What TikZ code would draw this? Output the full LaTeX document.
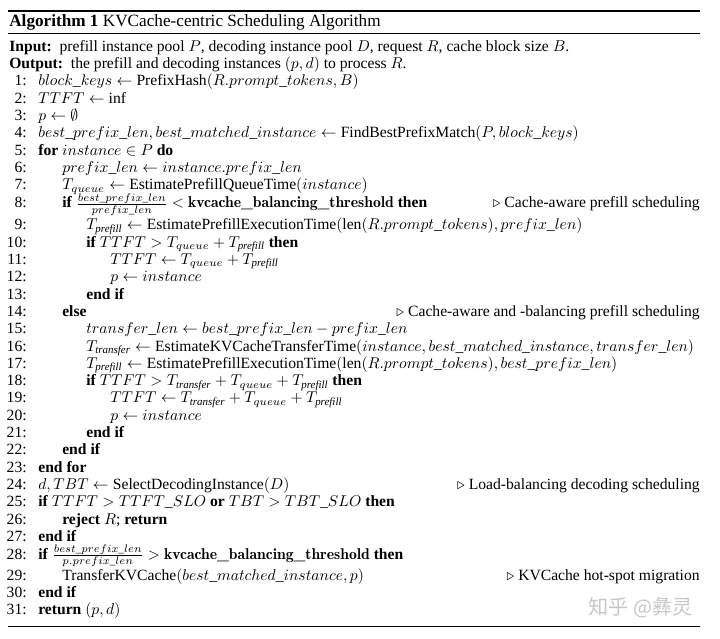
\documentclass[tikz,border=0pt]{standalone}
\usepackage{amsmath}
\usepackage{fontspec}
\setmainfont{Liberation Serif}
\newfontfamily\cjkwm{Noto Sans CJK SC}
\tikzset{
  num/.style={anchor=base east, inner sep=0pt},
  code/.style={anchor=base west, inner sep=0pt},
  cmt/.style={anchor=base east, inner sep=0pt},
  hdr/.style={anchor=base west, inner sep=0pt},
}
\newcommand\St[1]{\textit{#1}}
\newcommand\KT{{\fontfamily{lmr}\selectfont\bfseries kvcache\_balancing\_threshold}}
\newcommand\ALine[4]{%
  \node[num] (n#1) at (27,#3) {#1:};
  \node[code] (c#1) at ({38+24*(#2-1)},#3) {#4};}
\newcommand\AComment[3]{\node[cmt] (m#1) at (700,#2) {$\triangleright$ #3};}
\begin{document}
\begin{tikzpicture}[x=0.64pt,y=-0.64pt,font=\fontsize{10}{12}\selectfont]
\useasboundingbox (0,0) rectangle (720,639);
\fill[white] (0,0) rectangle (720,639);
% rules
\draw[line width=0.74pt] (8,11) -- (700,11);
\draw[line width=0.42pt] (8,33) -- (700,33);
\draw[line width=0.55pt] (8,626) -- (700,626);
% header
\node[hdr, font=\fontsize{11}{13}\selectfont] (title) at (9,27) {\textbf{Algorithm 1} KVCache-centric Scheduling Algorithm};
\node[hdr] (input) at (9,52) {\textbf{Input:}\ \ prefill instance pool $P$, decoding instance pool $D$, request $R$, cache block size $B$.};
\node[hdr] (output) at (9,68.5) {\textbf{Output:}\ \ the prefill and decoding instances $(p,d)$ to process $R$.};
% body
\ALine{1}{1}{86}{$block\_keys \leftarrow \text{PrefixHash}(R.prompt\_tokens, B)$}
\ALine{2}{1}{103.3}{$TTFT \leftarrow \text{inf}$}
\ALine{3}{1}{120.6}{$p \leftarrow \emptyset$}
\ALine{4}{1}{137.9}{$best\_prefix\_len, best\_matched\_instance \leftarrow \text{FindBestPrefixMatch}(P, block\_keys)$}
\ALine{5}{1}{155.2}{\textbf{for} $instance \in P$ \textbf{do}}
\ALine{6}{2}{172.5}{$prefix\_len \leftarrow instance.prefix\_len$}
\ALine{7}{2}{189.8}{$T_{queue} \leftarrow \text{EstimatePrefillQueueTime}(instance)$}
\ALine{8}{2}{208}{\textbf{if} $\frac{best\_prefix\_len}{prefix\_len} <$ \KT\ \textbf{then}}
\AComment{8}{208}{Cache-aware prefill scheduling}
\ALine{9}{3}{230}{$T_{\St{prefill}} \leftarrow \text{EstimatePrefillExecutionTime}(\text{len}(R.prompt\_tokens), prefix\_len)$}
\ALine{10}{3}{247.3}{\textbf{if} $TTFT > T_{queue} + T_{\St{prefill}}$ \textbf{then}}
\ALine{11}{4}{264.6}{$TTFT \leftarrow T_{queue} + T_{\St{prefill}}$}
\ALine{12}{4}{281.9}{$p \leftarrow instance$}
\ALine{13}{3}{299.2}{\textbf{end if}}
\ALine{14}{2}{316.5}{\textbf{else}}
\AComment{14}{316.5}{Cache-aware and -balancing prefill scheduling}
\ALine{15}{3}{333.8}{$transfer\_len \leftarrow best\_prefix\_len - prefix\_len$}
\ALine{16}{3}{351.1}{$T_{\St{transfer}} \leftarrow \text{EstimateKVCacheTransferTime}(instance, best\_matched\_instance, transfer\_len)$}
\ALine{17}{3}{368.4}{$T_{\St{prefill}} \leftarrow \text{EstimatePrefillExecutionTime}(\text{len}(R.prompt\_tokens), best\_prefix\_len)$}
\ALine{18}{3}{385.7}{\textbf{if} $TTFT > T_{\St{transfer}} + T_{queue} + T_{\St{prefill}}$ \textbf{then}}
\ALine{19}{4}{403}{$TTFT \leftarrow T_{\St{transfer}} + T_{queue} + T_{\St{prefill}}$}
\ALine{20}{4}{420.3}{$p \leftarrow instance$}
\ALine{21}{3}{437.6}{\textbf{end if}}
\ALine{22}{2}{454.9}{\textbf{end if}}
\ALine{23}{1}{472.2}{\textbf{end for}}
\ALine{24}{1}{489.5}{$d, TBT \leftarrow \text{SelectDecodingInstance}(D)$}
\AComment{24}{489.5}{Load-balancing decoding scheduling}
\ALine{25}{1}{506.8}{\textbf{if} $TTFT > TTFT\_SLO$ \textbf{or} $TBT > TBT\_SLO$ \textbf{then}}
\ALine{26}{2}{524.1}{\textbf{reject} $R$; \textbf{return}}
\ALine{27}{1}{541.4}{\textbf{end if}}
\ALine{28}{1}{559}{\textbf{if} $\frac{best\_prefix\_len}{p.prefix\_len} >$ \KT\ \textbf{then}}
\ALine{29}{2}{580}{$\text{TransferKVCache}(best\_matched\_instance, p)$}
\AComment{29}{580}{KVCache hot-spot migration}
\ALine{30}{1}{597.3}{\textbf{end if}}
\ALine{31}{1}{614.6}{\textbf{return} $(p, d)$}
% watermark
\node[anchor=west, inner sep=0pt, text=black!22, font=\cjkwm\fontsize{12.9}{12.9}\selectfont] (wm) at (588,608) {知乎 @彝灵};
\end{tikzpicture}
\end{document}
